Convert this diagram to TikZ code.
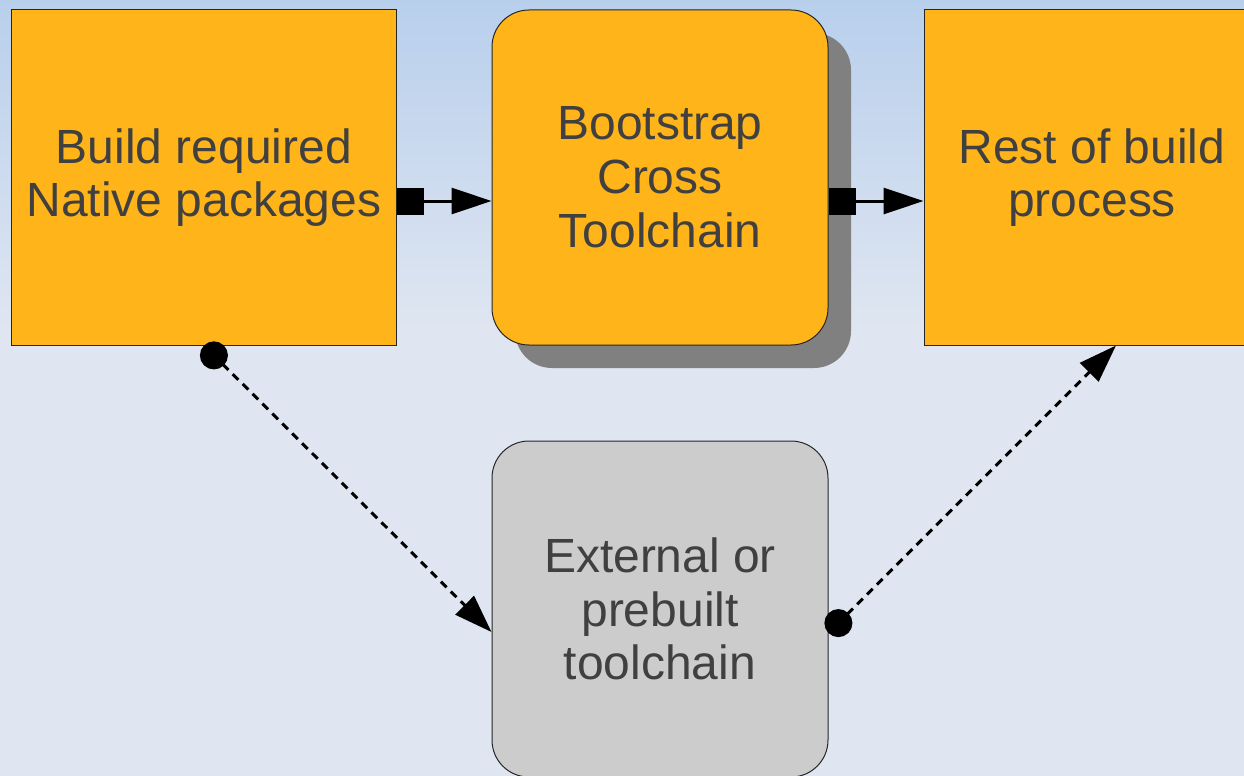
\documentclass[tikz,border=0pt]{standalone}
\usepackage{fontspec}
\setmainfont{Liberation Sans}
\usepackage{tikz}
\usetikzlibrary{arrows.meta}
\usetikzlibrary{shadows}

\definecolor{bgtop}{HTML}{B8CFEC}
\definecolor{bgbottom}{HTML}{DFE6F1}
\definecolor{boxorange}{HTML}{FFB419}
\definecolor{boxgray}{HTML}{CCCCCC}
\definecolor{shadowgray}{HTML}{808080}
\definecolor{textgray}{HTML}{404040}

\tikzset{
	stage/.style={draw=black!85,line width=0.2mm,fill=boxorange,text=textgray,align=center,
		font=\fontsize{27.3}{30.6}\selectfont,minimum height=67mm,inner sep=0pt},
	roundstage/.style={stage,rounded corners=7.4mm,minimum width=67.2mm},
	feeds/.style={line width=0.6mm,{Square[length=5.4mm,width=5.4mm]}-{Triangle[length=8mm,width=5.2mm]}},
	option/.style={line width=0.6mm,dash pattern=on 1.6mm off 1.2mm,
		{Circle[length=5.6mm]}-{Triangle[length=7.6mm,width=5.2mm]}}
}

\begin{document}
\begin{tikzpicture}[x=0.2mm,y=-0.2mm]
	\clip (0,0) rectangle (1244,776);
	\fill[bgbottom] (0,0) rectangle (1244,776);
	\shade[top color=bgtop,bottom color=bgbottom] (0,0) rectangle (1244,330);

	\node[stage,minimum width=76.8mm](native) at (204,177.5) {Build required\\Native packages};
	\node[roundstage,drop shadow={shadow xshift=4.6mm,shadow yshift=-4.6mm,fill=shadowgray,opacity=1}](bootstrap) at (660,177.5) {Bootstrap\\Cross\\Toolchain};
	\node[stage,minimum width=67.2mm](rest) at (1092,177.5) {Rest of build\\process};
	\node[roundstage,fill=boxgray,minimum height=67.2mm](prebuilt) at (660,609) {External or\\prebuilt\\toolchain};

	\draw[feeds] ([yshift=-4.7mm]native.east) -- ([yshift=-4.7mm]bootstrap.west);
	\draw[feeds] ([yshift=-4.7mm]bootstrap.east) -- ([yshift=-4.7mm]rest.west);
	\draw[option] (native.south) -- ([yshift=-4.6mm]prebuilt.west);
	\draw[option] ([yshift=-4.8mm]prebuilt.east) -- ([xshift=4.8mm]rest.south);
\end{tikzpicture}
\end{document}
